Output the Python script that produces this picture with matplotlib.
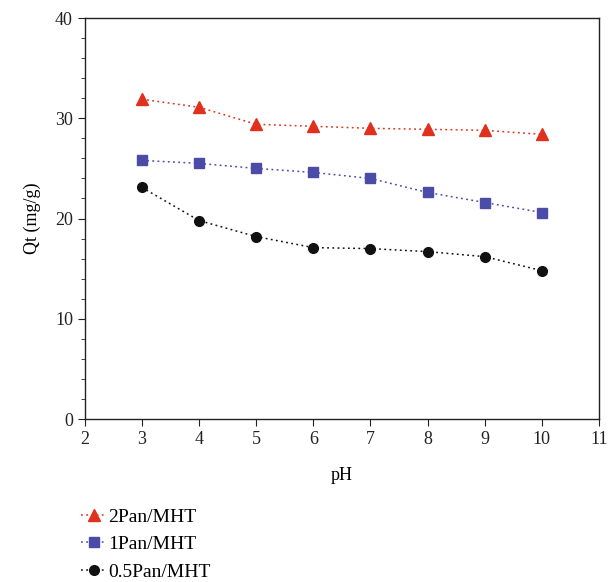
import numpy as np
import matplotlib.pyplot as plt

plt.rcParams['font.family'] = 'Liberation Serif'

ph = [3, 4, 5, 6, 7, 8, 9, 10]
q_2pan = [31.9, 31.1, 29.4, 29.2, 29.0, 28.9, 28.8, 28.4]
q_1pan = [25.8, 25.5, 25.0, 24.6, 24.0, 22.6, 21.6, 20.6]
q_05pan = [23.1, 19.8, 18.2, 17.1, 17.0, 16.7, 16.2, 14.8]

fig = plt.figure(figsize=(6.1, 5.82), dpi=100)
ax = fig.add_axes([0.139, 0.280, 0.843, 0.689])

dots = (0, (1.2, 2.2))
ax.plot(ph, q_2pan, ls=dots, color='#e0301e', lw=1.1, marker='^', ms=8, label='2Pan/MHT')
ax.plot(ph, q_1pan, ls=dots, color='#4b4ba8', lw=1.1, marker='s', ms=7, label='1Pan/MHT')
ax.plot(ph, q_05pan, ls=dots, color='#111111', lw=1.1, marker='o', ms=7, label='0.5Pan/MHT')

ax.set_xlim(2, 11)
ax.set_ylim(0, 40)
ax.set_xticks(range(2, 12))
ax.set_yticks(range(0, 41, 10))
ax.set_yticks(range(0, 41, 2), minor=True)
ax.tick_params(which='both', direction='out', labelsize=13, colors='#222222')
ax.tick_params(which='major', length=5)
ax.tick_params(which='minor', length=3)
for s in ax.spines.values():
    s.set_color('#222222')
    s.set_linewidth(1.0)

ax.set_xlabel('pH', fontsize=13, labelpad=14)
ax.set_ylabel('Qt (mg/g)', fontsize=13, labelpad=10)

fig.legend(loc='upper left', bbox_to_anchor=(0.12, 0.14), frameon=False,
           fontsize=14, handlelength=1.3, handletextpad=0.1, labelspacing=0.5,
           borderaxespad=0)

fig.savefig('out.png', dpi=100)
